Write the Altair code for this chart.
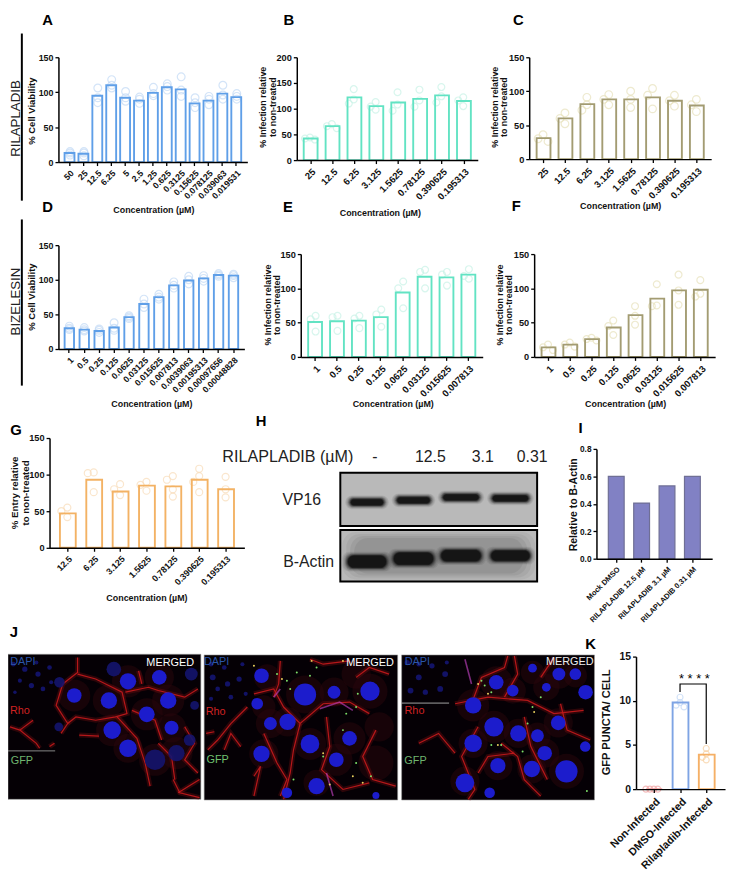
import altair as alt
import pandas as pd

W, H = 728, 865
FONT = "Liberation Sans"
BLUE, BLUE_P = "#5f9fe8", "#c2daf6"
TEAL, TEAL_P = "#62e3c3", "#c8f3e7"
OLIVE, OLIVE_P = "#a39c72", "#e8e2bc"
ORANGE, ORANGE_P = "#f3b264", "#f9dcb8"

# ---------- values ----------
A_lab = ["50","25","12.5","6.25","5","2.5","1.25","0.625","0.3125","0.15625","0.078125","0.039063","0.019531"]
A_mean = [13,12,95,110,92,88,99,107,104,84,88,98,93]
A_rep = [[15,13,10],[15,13,9],[106,92,85],[118,110,106],[101,92,87],[93,90,84],[107,98,95],[112,108,103],[122,103,94],[92,85,78],[94,90,82],[110,96,90],[98,94,90]]
B_lab = ["25","12.5","6.25","3.125","1.5625","0.78125","0.390625","0.195313"]
B_mean = [42,66,122,105,112,119,126,115]
B_rep = [[44,42,40],[70,66,62],[138,118,110],[113,104,98],[132,108,96],[137,116,104],[142,124,112],[122,116,105]]
C_mean = [31,60,81,88,88,91,86,79]
C_rep = [[36,30,26],[68,60,52],[91,80,72],[95,88,80],[100,88,76],[104,94,74],[94,86,78],[88,80,70]]
D_lab = ["1","0.5","0.25","0.125","0.0625","0.03125","0.015625","0.007813","0.0039063","0.00195313","0.00097656","0.00048828"]
D_mean = [30,28,26,31,46,65,75,92,99,102,107,106]
D_rep = [[33,30,28],[31,28,26],[29,27,24],[38,30,27],[48,46,44],[72,65,60],[79,75,72],[97,92,88],[105,100,94],[106,102,98],[109,107,105],[108,106,103]]
E_lab = ["1","0.5","0.25","0.125","0.0625","0.03125","0.015625","0.007813"]
E_mean = [51,52,53,58,94,117,116,120]
E_rep = [[60,55,37],[60,58,38],[60,56,42],[69,62,44],[110,100,71],[127,124,100],[124,120,104],[128,118,114]]
F_mean = [14,18,26,43,61,85,97,98]
F_rep = [[18,14,10],[21,18,15],[28,26,24],[53,45,32],[74,60,47],[106,75,74],[120,97,76],[112,92,88]]
G_lab = ["12.5","6.25","3.125","1.5625","0.78125","0.390625","0.195313"]
G_mean = [47,93,77,85,84,93,80]
G_rep = [[55,50,42],[103,102,76],[87,80,72],[90,86,78],[93,98,80,70],[108,98,90,76],[97,80,69]]
I_lab = ["Mock DMSO","RILAPLADIB 12.5 µM","RILAPLADIB 3.1 µM","RILAPLADIB 0.31 µM"]
I_mean = [0.60,0.405,0.53,0.60]
K_lab = ["Non-Infected","DMSO-Infected","Rilapladib-Infected"]
K_mean = [0,9.8,3.9]
K_rep = [[0,0,0,0],[10.4,9.8,9.5,9.3],[4.6,4.0,3.6,3.3]]
K_col = ["#ee9a9a","#7ea4e4","#f5b066"]
K_pale = ["#f2a5a5","#c2d8f6","#f8d0a0"]
K_bracket_x = [1,1,2,2]
K_bracket_y = [11,11.9,11.9,5.1]

# western blot: band centres in blot units (x across 199, y down 110)
VP16_x = [27,74,122,172]
VP16_y = [30,28,25,26]
VP16_w = [34,34,37,37]
VP16_h = [7,7,7,7]
ACTIN_x = [27,74,122,172]
ACTIN_y = [90,87,84,84]
ACTIN_w = [40,41,41,40]
ACTIN_h = [13,13,12,11]

# micrographs, in image units (x 0..1800, y 0..600)
PANELS = [(24,609,110,550),(619,1206,112,552),(1218,1803,112,552)]
NUC = [(225,235,25),(330,250,28),(388,192,28),(483,180,25),(510,250,28),(445,292,27),(520,333,24),(340,340,30),(388,395,30),
       (793,175,25),(925,232,38),(1013,225,22),(1122,222,33),(780,260,20),(820,320,22),(872,315,28),(940,382,32),(1060,365,25),(793,412,28),(1020,430,25),(960,510,28),(870,530,18),(1140,538,12),
       (1435,265,28),(1505,195,25),(1555,220,20),(1657,210,15),(1776,225,25),(1695,170,22),(1745,170,20),(1615,152,15),(1498,330,33),(1572,350,28),(1630,357,22),(1693,318,25),(1435,380,30),(1652,410,25),(1510,448,26),(1613,458,28),(1718,465,38),(1410,500,32),(1485,530,18),(1775,390,18)]
NUC_DIM = [(470,430,35),(535,410,28),(575,370,20),(580,170,22),(345,155,25),(590,265,15),(180,195,18),(178,330,15)]
HAZE = [(225,235,55),(330,250,55),(388,192,55),(483,180,50),(510,250,55),(445,292,55),(520,333,50),(340,340,55),(388,395,50),(470,430,55),(535,410,55),
        (810,180,45),(925,232,65),(1013,225,50),(1122,222,60),(800,270,40),(820,320,50),(872,315,50),(940,382,55),(1060,365,55),(800,412,50),(1020,430,55),(960,500,45),(1140,440,60),(1080,170,50),(1150,330,50),
        (1435,265,55),(1505,195,55),(1555,220,45),(1657,210,45),(1695,170,50),(1745,175,40),(1615,165,40),(1498,330,55),(1572,350,50),(1630,357,45),(1693,318,50),(1435,380,50),(1652,410,50),(1510,448,50),(1613,458,50),(1718,465,60),(1410,495,50)]
INSET = [(40,140,8),(75,155,9),(115,170,9),(150,150,8),(60,190,7),(95,205,9),(130,215,8),(45,225,6),(155,195,7),(110,135,7),
         (640,140,8),(680,150,8),(735,140,7),(645,180,10),(690,200,9),(725,185,9),(660,215,8),(700,240,8),(640,245,7),(745,230,7),
         (1235,135,9),(1270,180,10),(1310,145,9),(1350,170,10),(1245,220,10),(1290,225,9),(1335,215,10),(1270,140,8),(1355,135,7)]
RED = [[(235,120),(235,165),(190,200),(170,265),(205,320),(185,350)],
       [(235,170),(290,185),(370,225),(385,290),(350,300),(290,310),(230,300),(205,320)],
       [(240,355),(300,358)],[(355,300),(415,365),(440,440),(455,510)],
       [(380,225),(450,210),(480,220),(560,240),(600,215)],[(430,200),(420,160)],
       [(540,530),(605,490)],[(525,490),(545,530),(605,545)],[(480,380),(520,420),(530,490)],
       [(400,280),(470,310),(490,370)],[(560,330),(590,380),(560,430),(600,470)],
       [(30,330),(60,340),(110,380),(120,395)],[(150,390),(165,380)],[(60,340),(100,310)],
       [(770,230),(830,215),(860,270),(910,320),(980,260),(1060,255),(1120,290)],
       [(850,130),(845,200),(830,240)],[(910,320),(890,400),(880,470),(860,550)],
       [(800,350),(840,440),(870,490),(850,540)],[(990,300),(1000,390),(975,460),(1040,520),(1120,500)],
       [(770,480),(790,450),(770,540)],[(1080,180),(1120,150),(1180,170)],[(1140,340),(1100,420),(1130,490),(1200,510)],
       [(940,125),(980,140),(1060,130)],[(630,400),(660,370),(700,320),(750,270)],[(680,400),(700,350),(730,390)],[(625,350),(650,345)],
       [(1540,115),(1530,150),(1460,180),(1430,260)],[(1560,115),(1570,170),(1530,240)],
       [(1380,260),(1480,240),(1600,250),(1680,290),(1770,280)],[(1450,330),(1400,420),(1440,520),(1420,550)],
       [(1520,380),(1570,420),(1590,490),(1640,540)],[(1590,300),(1610,390),(1660,490)],[(1700,260),(1720,340),(1790,370)],
       [(1560,410),(1480,420),(1450,470)],[(1680,120),(1640,180)],[(1270,380),(1330,350),(1380,410)]]
MAGENTA = [[(850,215),(830,240)],[(970,275),(1030,255),(1070,280)],[(990,470),(1010,540)],[(1410,125),(1430,200)]]
GREEN = [(840,170),(870,190),(900,165),(940,175),(880,215),(960,150),(1080,270),(1050,290),(1040,340),(1080,440),(1125,480),(980,420),(1085,230),(890,490),
         (1460,190),(1470,205),(1490,225),(1600,320),(1615,270),(1490,385),(1585,405),(1520,385),(1780,525),(1640,240)]
YELLOW = [(770,145),(855,185),(945,130),(980,410),(1000,505),(1070,480),(1040,130),(1450,200),(1480,230),(1510,385),(1620,285),(1100,500)]
SCALEBARS = [(24,167,403,"#aaaaaa"),(1218,1362,258,"#cccccc")]

# page-position text: (text, x, y, size, colour, angle, bold)
LABELS = [("A",48,15,15,"#000",0,1),("B",292,15,15,"#000",0,1),("C",524,15,15,"#000",0,1),("D",48,204,15,"#000",0,1),
          ("E",291,204,15,"#000",0,1),("F",522,203,15,"#000",0,1),("G",16,430,15,"#000",0,1),("H",264,421,15,"#000",0,1),
          ("I",587,428,15,"#000",0,1),("J",14,634,15,"#000",0,1),("K",597,646,15,"#000",0,1),
          ("RILAPLADIB",16,115,13.4,"#222",270,0),("BIZELESIN",16,300,13.4,"#222",270,0),
          ("RILAPLADIB (µM)",291,457,16.3,"#222",0,0),("-",379,457,16,"#222",0,0),("12.5",435,457,16,"#222",0,0),
          ("3.1",488,457,16,"#222",0,0),("0.31",538,457,16,"#222",0,0),("VP16",305,501,16,"#222",0,0),("B-Actin",312,563,16,"#222",0,0),
          ("DAPI",23,664,11,"#2a55a8",0,0),("Rho",20,714,11,"#d02222",0,0),("GFP",22,765,11,"#6fb56f",0,0),("MERGED",172,665,11,"#fff",0,0),
          ("DAPI",219,664,11,"#2a55a8",0,0),("Rho",218,715,11,"#d02222",0,0),("GFP",220,764,11,"#6fc06f",0,0),("MERGED",374,666,11,"#fff",0,0),
          ("DAPI",422,664,11,"#2a55a8",0,0),("Rho",419,714,11,"#d02222",0,0),("GFP",420,765,11,"#6fb56f",0,0),("MERGED",576,664,11,"#eee",0,0),
          ("* * * *",702,682,13,"#000",0,0)]
RULES = [(22,29,198),(22,217,385)]

# ---------- helpers ----------
def cx(v): return v - 8
def cy(v): return v - 8

def swarm(vals, ppu, thr, shift):
    placed, out = [], []
    for v in sorted(vals, reverse=True):
        for off in (0, -shift, shift, -2*shift, 2*shift):
            if all(o != off or abs(u - v) * ppu >= thr for u, o in placed):
                break
        placed.append((v, off)); out.append((v, off))
    return out

def panel(labels, means, reps, x0, x1, ytop, ybot, ymax, ticks, first, last, bw, col, pale,
          xtitle=None, xt=None, ytitle=None, yt=None, fill=None, psize=60, thr=0, shift=0,
          lab=9, tlab=9, ttl=9, yttl=9, lh=10, fmt=None):
    n = len(labels)
    step = (last - first) / (n - 1)
    p = 1 - bw / step
    po = ((x1 - x0) / step - n + p) / 2
    cols = col if isinstance(col, list) else [col] * n
    pales = pale if isinstance(pale, list) else [pale] * n
    bars = pd.DataFrame({"label": labels, "v": means, "c": cols})
    yscale = alt.Scale(domain=[0, ymax], range=[cy(ybot), cy(ytop)], nice=False)
    xa = dict(orient="bottom", offset=cy(ybot) - H, labelAngle=315, labelAlign="right", labelBaseline="top",
              labelFont=FONT, labelFontWeight="bold", labelFontSize=lab, labelColor="#111", labelPadding=3,
              labelOverlap=False, labelBound=False, labelFlush=False, tickSize=3.5, tickColor="#000", tickWidth=1.3,
              domainColor="#000", domainWidth=1.5, grid=False, zindex=1, title=xtitle)
    if xtitle:
        xa.update(titleX=cx(xt[0]), titleY=xt[1] - ybot, titleFont=FONT, titleFontWeight="bold", titleFontSize=ttl,
                  titleColor="#111", titleBaseline="middle", titleAlign="center", titleAnchor="middle")
    ya = dict(orient="left", offset=-cx(x0), values=ticks, labelFont=FONT, labelFontWeight="bold", labelFontSize=tlab,
              labelColor="#111", labelPadding=2, labelOverlap=False, labelBound=False, labelFlush=False, tickSize=3.5,
              tickColor="#000", tickWidth=1.3, domainColor="#000", domainWidth=1.5, grid=False, zindex=1, title=ytitle,
              titleX=yt[0] - x0, titleY=cy(yt[1]), titleFont=FONT, titleFontWeight="bold", titleFontSize=yttl,
              titleLineHeight=lh, titleColor="#111", titleAngle=270, titleBaseline="middle", titleAlign="center", titleAnchor="middle")
    if fmt:
        ya["format"] = fmt
    layers = []
    if reps:
        rows = []
        ppu = (ybot - ytop) / ymax
        for i, r in enumerate(reps):
            for v, off in swarm(r, ppu, thr, shift):
                rows.append({"pos": i + off / step, "v": v, "c": pales[i]})
        layers.append(alt.Chart(pd.DataFrame(rows)).mark_point(shape="circle", filled=False, size=psize, strokeWidth=1.2).encode(
            x=alt.X("pos:Q", scale=alt.Scale(domain=[0, n - 1], range=[cx(first), cx(last)], nice=False, zero=False), axis=None),
            y=alt.Y("v:Q", scale=yscale, axis=None),
            stroke=alt.Stroke("c:N", scale=None)))
    if fill:
        m = alt.Chart(bars).mark_bar(fill=fill, strokeWidth=1.2)
    else:
        m = alt.Chart(bars).mark_bar(fillOpacity=0, strokeWidth=1.9)
    layers.append(m.encode(
        x=alt.X("label:N", sort=labels, scale=alt.Scale(type="band", domain=labels, range=[cx(x0), cx(x1)], paddingInner=p, paddingOuter=po), axis=alt.Axis(**xa)),
        y=alt.Y("v:Q", scale=yscale, axis=alt.Axis(**ya)),
        stroke=alt.Stroke("c:N", scale=None)))
    return layers

layers = []
CONC = "Concentration (µM)"
INF = ["% Infection relative", "to non-treated"]
layers += panel(A_lab, A_mean, A_rep, 59, 250, 53, 159, 150, [0,50,100,150], 70.7, 239.3, 10, BLUE, BLUE_P, CONC, (155,207), "% Cell Viability", (32,107), psize=62, lab=8.8, yttl=9.6)
layers += panel(B_lab, B_mean, B_rep, 300, 483, 53, 157, 200, [0,50,100,150,200], 313.3, 468.3, 14, TEAL, TEAL_P, CONC, (384,210), INF, (265,103), psize=48, thr=7, shift=5, lab=9.6, tlab=9.3)
layers += panel(B_lab, C_mean, C_rep, 535, 719, 53, 156, 150, [0,50,100,150], 549, 704, 14, OLIVE, OLIVE_P, CONC, (627,203), INF, (499.5,103), psize=60, thr=7, shift=5, lab=9.6, tlab=9.3)
layers += panel(D_lab, D_mean, D_rep, 59, 247, 243, 348, 150, [0,50,100,150], 70, 236, 9.5, BLUE, BLUE_P, CONC, (153,403), "% Cell Viability", (32,295), psize=62, lab=8.8, yttl=9.6)
layers += panel(E_lab, E_mean, E_rep, 304, 488, 252, 356, 150, [0,50,100,150], 319, 474, 14, TEAL, TEAL_P, CONC, (397,403), INF, (270,303), psize=48, thr=7, shift=5, lab=9.6, tlab=9.3)
layers += panel(E_lab, F_mean, F_rep, 540, 723, 252, 356, 150, [0,50,100,150], 554, 708, 14, OLIVE, OLIVE_P, CONC, (632,403), INF, (504.5,303), psize=48, thr=7, shift=5, lab=9.6, tlab=9.3)
layers += panel(G_lab, G_mean, G_rep, 50, 247, 438, 549, 150, [0,50,100,150], 68, 228, 16, ORANGE, ORANGE_P, CONC, (148,599), ["% Entry relative", "to non-treated"], (15,493), psize=50, thr=7, shift=6, lab=9, tlab=9.3, yttl=9.8, lh=11)
layers += panel(I_lab, I_mean, None, 603, 720, 449, 560, 0.8, [0,0.2,0.4,0.6,0.8], 625, 702, 16, "#6f6f95", None, ytitle="Relative to B-Actin", yt=(580,505), fill="#8181c4", lab=7.6, tlab=8.4, yttl=10.6, fmt=".1f")
layers += panel(K_lab, K_mean, K_rep, 643, 733, 659, 793, 15, [0,5,10,15], 661, 714, 16, K_col, K_pale, ytitle="GFP PUNCTA/ CELL", yt=(613,725), psize=36, thr=5, shift=4, lab=10.8, tlab=10.5, yttl=11.2)

# K bracket, on K's own scales
layers.append(alt.Chart(pd.DataFrame({"i": K_bracket_x, "v": K_bracket_y, "o": range(4)})).mark_line(color="#000", strokeWidth=1.2).encode(
    x=alt.X("i:Q", scale=alt.Scale(domain=[0,2], range=[cx(661), cx(714)], nice=False, zero=False), axis=None),
    y=alt.Y("v:Q", scale=alt.Scale(domain=[0,15], range=[cy(793), cy(659)], nice=False), axis=None),
    order="o:Q"))

# Western blots
BX = alt.Scale(domain=[0,199], range=[cx(344), cx(543)], nice=False, zero=False)
BY = alt.Scale(domain=[0,110], range=[cy(473), cy(583)], nice=False, zero=False)
def blot_rect(df, **kw):
    return alt.Chart(df).mark_rect(**kw).encode(
        x=alt.X("x1:Q", scale=BX, axis=None), x2="x2:Q",
        y=alt.Y("y1:Q", scale=BY, axis=None), y2="y2:Q")
layers.append(blot_rect(pd.DataFrame({"x1":[0,0],"x2":[199,199],"y1":[0,58],"y2":[54,110]}), fill="#b9b9b9", stroke="#000", strokeWidth=2))
for g, op in [(0,0.06),(4,0.07),(8,0.08),(12,0.09)]:
    layers.append(blot_rect(pd.DataFrame({"x1":[2+g],"x2":[197-g],"y1":[60+g/2],"y2":[108-g/2]}), fill="#333", opacity=op, cornerRadius=14))
bx = VP16_x + ACTIN_x; by = VP16_y + ACTIN_y; bw = VP16_w + ACTIN_w; bh = VP16_h + ACTIN_h
for g, op in [(5,0.07),(4,0.09),(3,0.12),(2.2,0.16),(1.5,0.22),(0.8,0.3),(0,0.55),(-0.8,0.8)]:
    df = pd.DataFrame({"x1":[a-w/2-g for a,w in zip(bx,bw)],"x2":[a+w/2+g for a,w in zip(bx,bw)],
                       "y1":[a-h/2-g*0.7 for a,h in zip(by,bh)],"y2":[a+h/2+g*0.7 for a,h in zip(by,bh)]})
    layers.append(blot_rect(df, fill="#111", opacity=op, cornerRadius=7))

# Micrographs
JX = alt.Scale(domain=[0,1800], range=[cx(0), cx(600)], nice=False, zero=False)
JY = alt.Scale(domain=[0,600], range=[cy(620), cy(820)], nice=False, zero=False)
pdf = pd.DataFrame(PANELS, columns=["x1","x2","y1","y2"])
layers.append(alt.Chart(pdf).mark_rect(fill="#050005", stroke="#999", strokeWidth=0.6).encode(
    x=alt.X("x1:Q", scale=JX, axis=None), x2="x2:Q", y=alt.Y("y1:Q", scale=JY, axis=None), y2="y2:Q"))
def polylines(segs):
    return pd.DataFrame([{"s":k,"o":j,"x":p[0],"y":p[1]} for k,s in enumerate(segs) for j,p in enumerate(s)])
def dots(lst, col, op=1.0):
    df = pd.DataFrame(lst, columns=["x","y","r"])
    df["area"] = 3.1416 * (df["r"] / 3) ** 2
    return alt.Chart(df).mark_point(shape="circle", filled=True, color=col, opacity=op).encode(
        x=alt.X("x:Q", scale=JX, axis=None), y=alt.Y("y:Q", scale=JY, axis=None),
        size=alt.Size("area:Q", scale=None, legend=None))
layers.append(dots(HAZE, "#2a060c", 0.5))
for segs, col, w, op in [(RED,"#8a1014",5,0.3),(RED,"#c41a1c",1.2,0.9),(MAGENTA,"#b03ab0",1.6,0.7)]:
    layers.append(alt.Chart(polylines(segs)).mark_line(color=col, strokeWidth=w, opacity=op).encode(
        x=alt.X("x:Q", scale=JX, axis=None), y=alt.Y("y:Q", scale=JY, axis=None), detail="s:N", order="o:Q"))
layers.append(dots(NUC_DIM, "#14146e", 0.9))
layers.append(dots(NUC, "#1c1ccc"))
layers.append(dots(INSET, "#121266"))
pg = pd.DataFrame(GREEN, columns=["x","y"]); py = pd.DataFrame(YELLOW, columns=["x","y"])
for d, col in [(pg, "#7ee06a"), (py, "#e8cf5e")]:
    layers.append(alt.Chart(d).mark_point(shape="circle", filled=True, color=col, size=4, opacity=1).encode(
        x=alt.X("x:Q", scale=JX, axis=None), y=alt.Y("y:Q", scale=JY, axis=None)))
sb = pd.DataFrame(SCALEBARS, columns=["x1","x2","y","c"])
layers.append(alt.Chart(sb).mark_rule(strokeWidth=0.8).encode(
    x=alt.X("x1:Q", scale=JX, axis=None), x2="x2:Q", y=alt.Y("y:Q", scale=JY, axis=None), color=alt.Color("c:N", scale=None)))

# Free text and the two side rules
tdf = pd.DataFrame(LABELS, columns=["t","x","y","s","c","a","b"])
tdf["x"] = tdf["x"] - 8; tdf["y"] = tdf["y"] - 8
for bold, weight in [(1, "bold"), (0, "normal")]:
    layers.append(alt.Chart(tdf[tdf.b == bold]).mark_text(font=FONT, fontWeight=weight, baseline="middle", align="center").encode(
        x=alt.X("x:Q", scale=None, axis=None), y=alt.Y("y:Q", scale=None, axis=None), text="t:N",
        size=alt.Size("s:Q", scale=None, legend=None), color=alt.Color("c:N", scale=None), angle=alt.Angle("a:Q", scale=None)))
rdf = pd.DataFrame(RULES, columns=["x","y","y2"]); rdf = rdf - 8
layers.append(alt.Chart(rdf).mark_rule(color="#000", strokeWidth=2).encode(
    x=alt.X("x:Q", scale=None, axis=None), y=alt.Y("y:Q", scale=None, axis=None), y2="y2:Q"))

chart = alt.layer(*layers).resolve_scale(x="independent", y="independent", size="independent", color="independent", stroke="independent", angle="independent").resolve_axis(x="independent", y="independent").properties(
    width=W, height=H, padding=0, autosize=alt.AutoSizeParams(type="none")
).configure_view(stroke=None)
chart.save("out.html", embed_options={"renderer": "svg", "actions": False})
